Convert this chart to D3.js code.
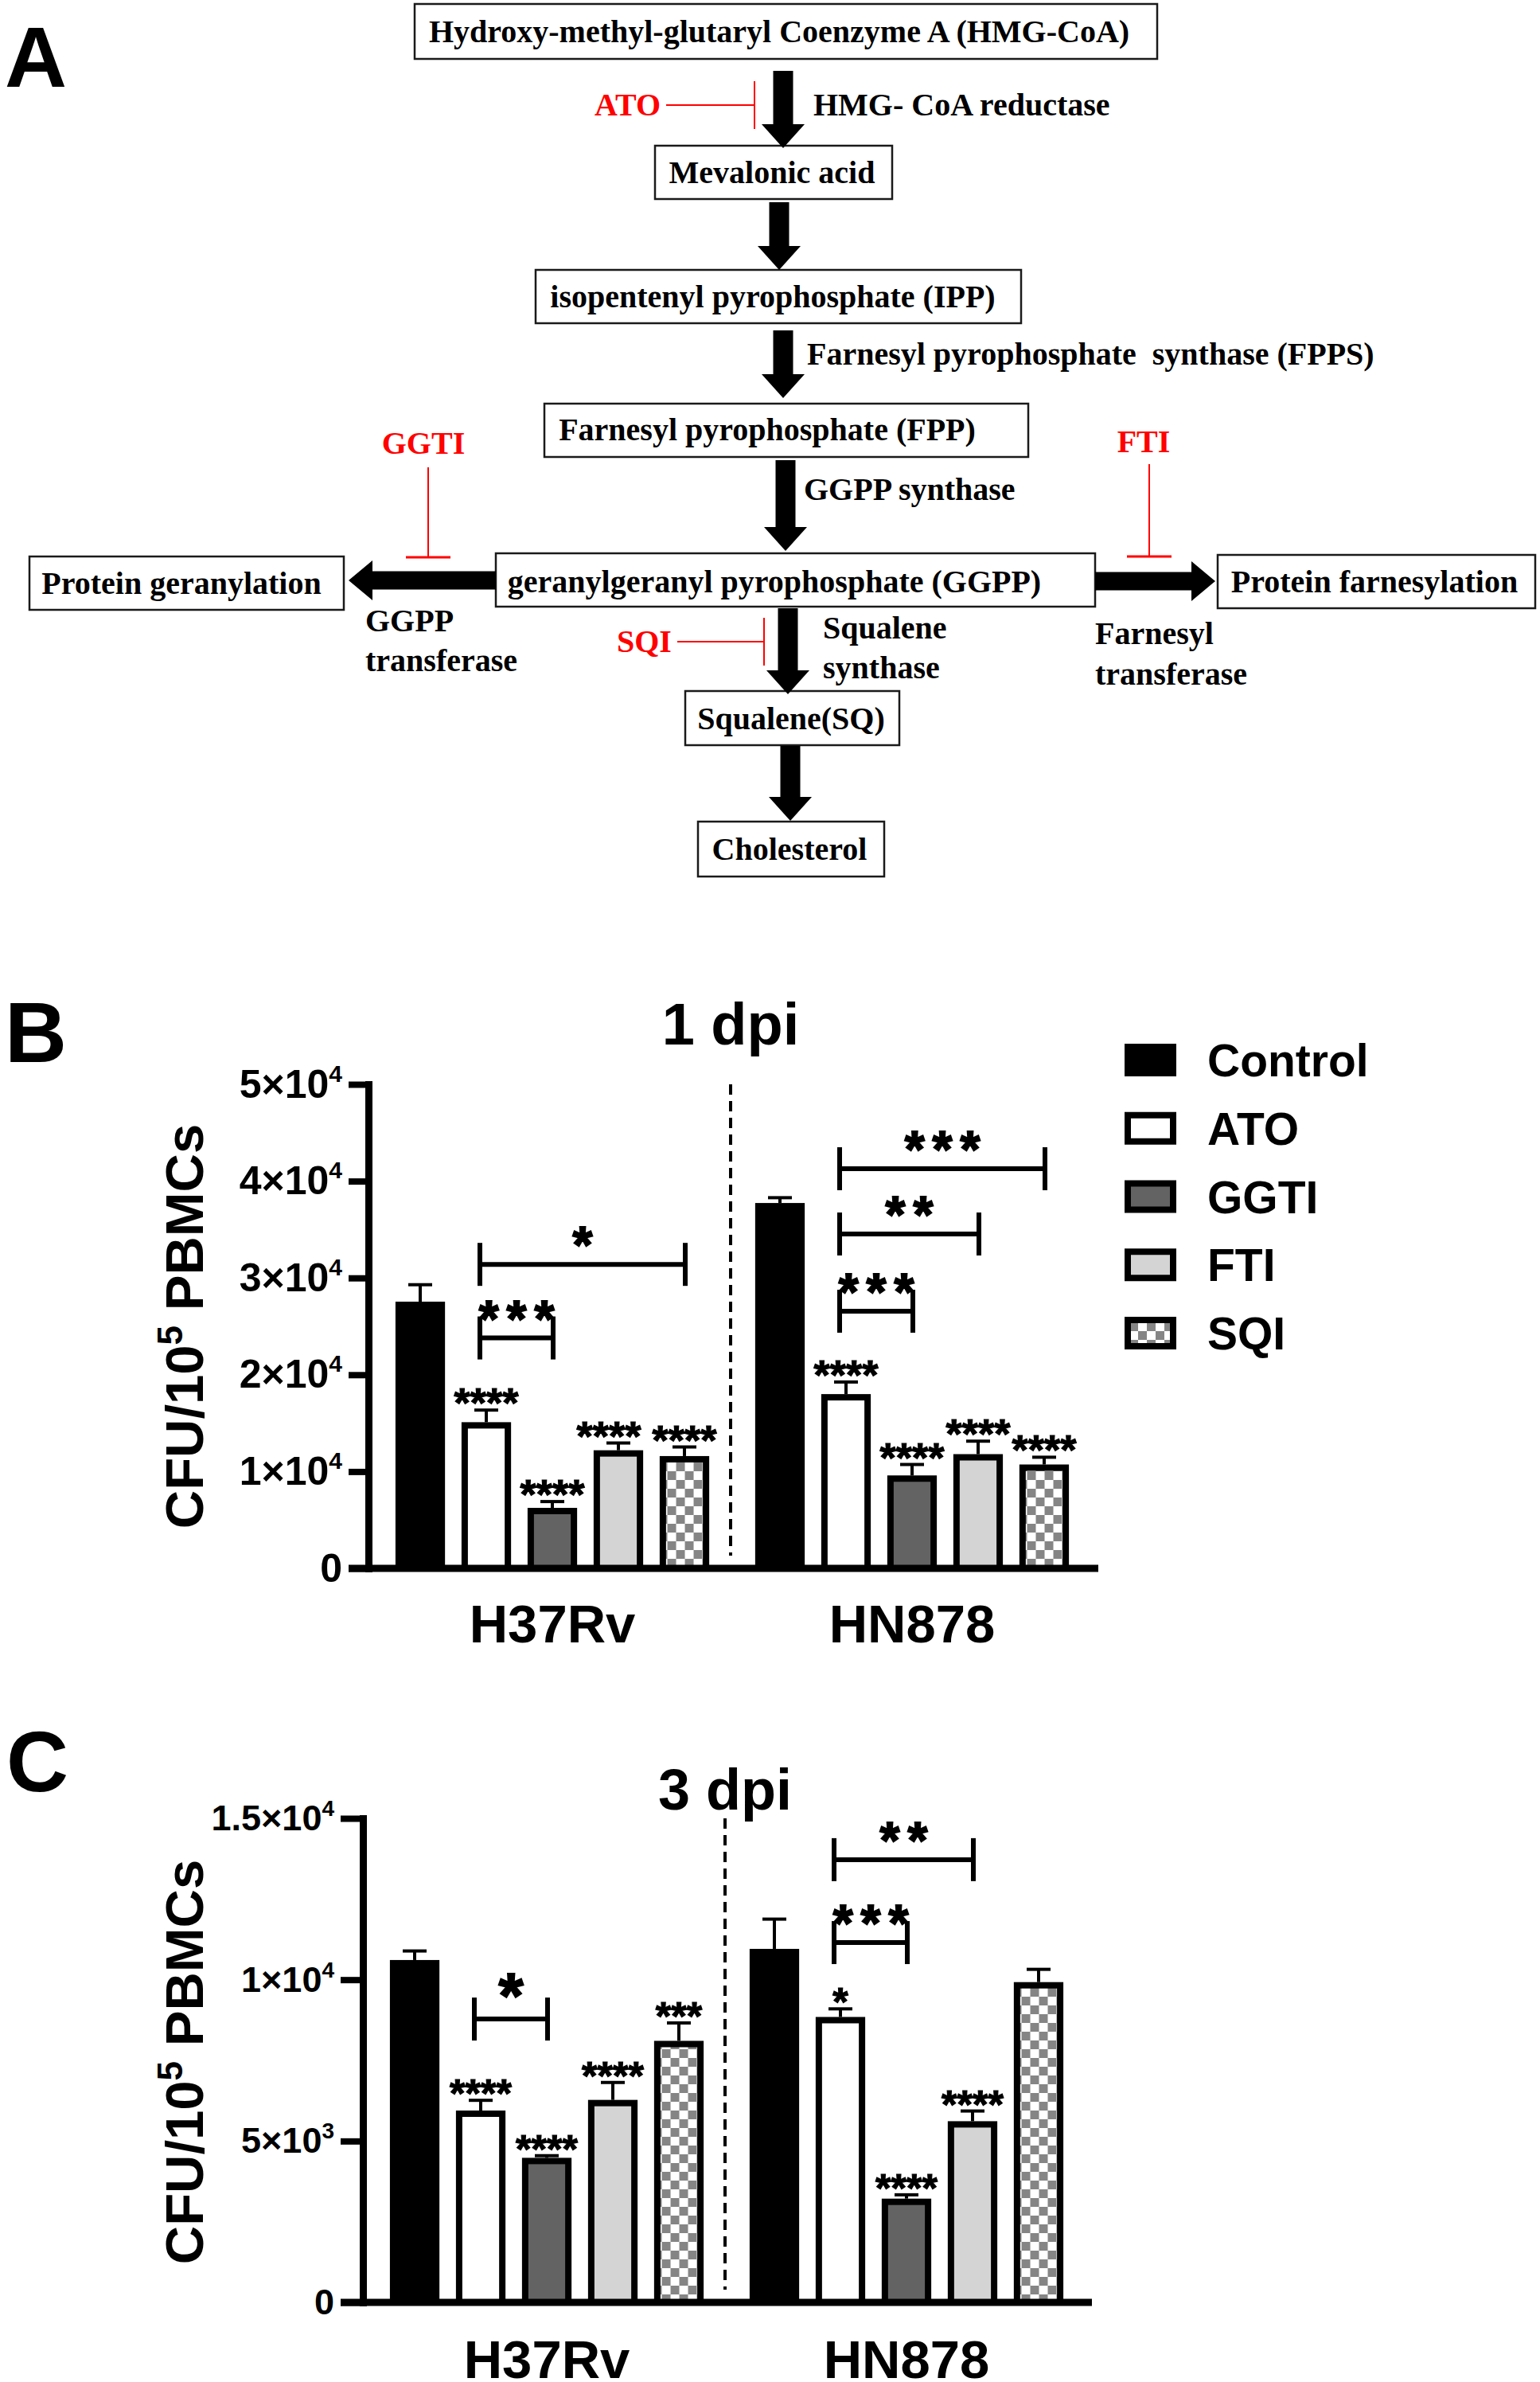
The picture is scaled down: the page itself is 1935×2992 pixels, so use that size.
<!DOCTYPE html>
<html><head><meta charset="utf-8">
<script src="https://cdn.jsdelivr.net/npm/d3@7"></script>
<style>body{margin:0;background:#fff}svg{display:block}</style>
</head><body>
<svg id="fig" width="1935" height="2992"></svg>
<script>
// ---------------- DATA ----------------
const series = ["Control", "ATO", "GGTI", "FTI", "SQI"];
const strains = ["H37Rv", "HN878"];

// Panel B: 1 dpi (CFU / 10^5 PBMCs)
const dpi1_H37Rv     = [27550, 15100, 6250, 12200, 11600];
const dpi1_H37Rv_sem = [1750, 1250, 650, 750, 940];
const dpi1_HN878     = [37740, 18000, 9600, 11800, 10730];
const dpi1_HN878_sem = [550, 1250, 1130, 1340, 750];
const dpi1_sig_H37Rv = ["", "****", "****", "****", "****"];
const dpi1_sig_HN878 = ["", "****", "****", "****", "****"];
const dpi1_ticks      = [0, 10000, 20000, 30000, 40000, 50000];
const dpi1_tickLabels = ["0", "1×10^4", "2×10^4", "3×10^4", "4×10^4", "5×10^4"];
const dpi1_brackets = [
  ["H37Rv", "ATO", "GGTI", 23800, "***"],
  ["H37Rv", "ATO", "SQI", 31400, "*"],
  ["HN878", "ATO", "GGTI", 26560, "***"],
  ["HN878", "ATO", "FTI", 34540, "**"],
  ["HN878", "ATO", "SQI", 41280, "***"]
];

// Panel C: 3 dpi
const dpi3_H37Rv     = [10610, 5945, 4480, 6275, 8105];
const dpi3_H37Rv_sem = [280, 317, 66, 540, 554];
const dpi3_HN878     = [10955, 8845, 3215, 5615, 9925];
const dpi3_HN878_sem = [922, 251, 119, 316, 396];
const dpi3_sig_H37Rv = ["", "****", "****", "****", "***"];
const dpi3_sig_HN878 = ["", "*", "****", "****", ""];
const dpi3_ticks      = [0, 5000, 10000, 15000];
const dpi3_tickLabels = ["0", "5×10^3", "1×10^4", "1.5×10^4"];
const dpi3_brackets = [
  ["H37Rv", "ATO", "GGTI", 8780, "*"],
  ["HN878", "ATO", "GGTI", 11150, "***"],
  ["HN878", "ATO", "FTI", 13720, "**"]
];

// ---------------- SETUP ----------------
const svg = d3.select("#fig");
const SANS = "'Liberation Sans', Arial, sans-serif";
const SERIF = "'Liberation Serif', 'Times New Roman', serif";
const RED = "#ff0000";

const defs = svg.append("defs");
const pat = defs.append("pattern").attr("id", "checker")
  .attr("patternUnits", "userSpaceOnUse").attr("width", 22).attr("height", 22);
pat.append("rect").attr("width", 22).attr("height", 22).attr("fill", "#fff");
pat.append("rect").attr("width", 11).attr("height", 11).attr("fill", "#858585");
pat.append("rect").attr("x", 11).attr("y", 11).attr("width", 11).attr("height", 11).attr("fill", "#858585");

const fills = {Control: "#000", ATO: "#fff", GGTI: "#636363", FTI: "#d4d4d4", SQI: "url(#checker)"};

// panel letters
[["A", 6, 109], ["B", 6, 1334], ["C", 8, 2250]].forEach(([t, x, y]) => {
  svg.append("text").attr("x", x).attr("y", y).attr("font-family", SANS)
    .attr("font-weight", "bold").attr("font-size", 108).text(t);
});

// ---------------- PANEL A (pathway diagram) ----------------
const gA = svg.append("g");
const boxes = [
  [521, 5, 933, 69], [823, 183, 298, 67], [673, 339, 610, 67], [684, 507, 608, 67],
  [623, 695, 753, 67], [37, 699, 395, 67], [1530, 697, 399, 67], [861, 868, 269, 68], [877, 1032, 234, 69]
];
gA.selectAll("rect.box").data(boxes).join("rect").attr("class", "box")
  .attr("x", d => d[0]).attr("y", d => d[1]).attr("width", d => d[2]).attr("height", d => d[3])
  .attr("fill", "#fff").attr("stroke", "#1a1a1a").attr("stroke-width", 2.5);

const vArrows = [[984, 89, 186], [979, 254, 339], [984, 415, 500], [987, 578, 692], [990, 764, 872], [993, 937, 1031]];
vArrows.forEach(([x, y1, y2]) => {
  const sw = 12.5, hw = 27, hl = 30;
  const pts = [[x - sw, y1], [x + sw, y1], [x + sw, y2 - hl], [x + hw, y2 - hl], [x, y2], [x - hw, y2 - hl], [x - sw, y2 - hl]];
  gA.append("polygon").attr("points", pts.map(p => p.join(",")).join(" ")).attr("fill", "#000");
});
const hArrows = [[729, 623, 438], [730, 1376, 1527]];
hArrows.forEach(([y, x1, x2]) => {
  const sw = 11.5, hw = 25, hl = 30, s = Math.sign(x2 - x1);
  const pts = [[x1, y - sw], [x2 - s * hl, y - sw], [x2 - s * hl, y - hw], [x2, y], [x2 - s * hl, y + hw], [x2 - s * hl, y + sw], [x1, y + sw]];
  gA.append("polygon").attr("points", pts.map(p => p.join(",")).join(" ")).attr("fill", "#000");
});

// inhibitors: [x1,y1,x2,y2, barOrientation, barHalf]
const inhib = [[837, 132, 948, 132, "v", 30], [538, 587, 538, 700, "h", 28], [1444, 583, 1444, 699, "h", 28], [851, 806, 960, 806, "v", 30]];
inhib.forEach(([x1, y1, x2, y2, o, h]) => {
  gA.append("line").attr("x1", x1).attr("y1", y1).attr("x2", x2).attr("y2", y2).attr("stroke", RED).attr("stroke-width", 2);
  if (o === "v") gA.append("line").attr("x1", x2).attr("x2", x2).attr("y1", y2 - h).attr("y2", y2 + h).attr("stroke", RED).attr("stroke-width", 2);
  else gA.append("line").attr("x1", x2 - h).attr("x2", x2 + h).attr("y1", y2).attr("y2", y2).attr("stroke", RED).attr("stroke-width", 3);
});

// texts: [text, x, centerY, anchor, color]
const aTexts = [
  ["Hydroxy-methyl-glutaryl Coenzyme A (HMG-CoA)", 979, 40, "middle", "#000"],
  ["ATO", 747, 132, "start", RED],
  ["HMG- CoA reductase", 1022, 132, "start", "#000"],
  ["Mevalonic acid", 970, 217, "middle", "#000"],
  ["isopentenyl pyrophosphate (IPP)", 971, 373, "middle", "#000"],
  ["Farnesyl pyrophosphate  synthase (FPPS)", 1014, 445, "start", "#000"],
  ["Farnesyl pyrophosphate (FPP)", 964, 540, "middle", "#000"],
  ["GGTI", 532, 557, "middle", RED],
  ["FTI", 1437, 555, "middle", RED],
  ["GGPP synthase", 1010, 615, "start", "#000"],
  ["geranylgeranyl pyrophosphate (GGPP)", 973, 731, "middle", "#000"],
  ["Protein geranylation", 228, 733, "middle", "#000"],
  ["Protein farnesylation", 1727, 731, "middle", "#000"],
  ["GGPP", 459, 780, "start", "#000"],
  ["transferase", 459, 830, "start", "#000"],
  ["Farnesyl", 1376, 796, "start", "#000"],
  ["transferase", 1376, 847, "start", "#000"],
  ["SQI", 775, 806, "start", RED],
  ["Squalene", 1034, 789, "start", "#000"],
  ["synthase", 1034, 839, "start", "#000"],
  ["Squalene(SQ)", 994, 903, "middle", "#000"],
  ["Cholesterol", 992, 1067, "middle", "#000"]
];
gA.selectAll("text").data(aTexts).join("text")
  .attr("x", d => d[1]).attr("y", d => d[2] + 13).attr("text-anchor", d => d[3]).attr("fill", d => d[4])
  .attr("font-family", SERIF).attr("font-weight", "bold").attr("font-size", 40)
  .attr("xml:space", "preserve").style("white-space", "pre").text(d => d[0]);

// ---------------- BAR CHART FUNCTION ----------------
function drawChart(o) {
  const g = svg.append("g");
  const y = d3.scaleLinear().domain([0, o.yMax]).range([o.y0, o.y1]);
  const xg = d3.scaleBand().domain(strains).range([o.xr0, o.xr1]).paddingInner(0.0819).paddingOuter(0.041);
  const xs = d3.scaleBand().domain(series).range([0, xg.bandwidth()]).paddingInner(0.25).paddingOuter(0.125);
  const bw = xs.bandwidth();
  const cx = (strain, s) => xg(strain) + xs(s) + bw / 2;

  // bars
  const grp = g.selectAll("g.grp").data(o.data).join("g").attr("class", "grp")
    .attr("transform", d => `translate(${xg(d.strain)},0)`);
  grp.each(function (d) {
    const gg = d3.select(this);
    const rows = series.map((s, i) => ({s, v: d.values[i], e: d.sem[i], sig: d.sig[i]}));
    gg.selectAll("rect").data(rows).join("rect")
      .attr("x", r => xs(r.s) + 4).attr("width", bw - 8)
      .attr("y", r => y(r.v) + 4).attr("height", r => o.y0 - y(r.v) - 4)
      .attr("fill", r => fills[r.s]).attr("stroke", "#000").attr("stroke-width", 8);
    gg.selectAll("line.stem").data(rows).join("line").attr("class", "stem")
      .attr("x1", r => xs(r.s) + bw / 2).attr("x2", r => xs(r.s) + bw / 2)
      .attr("y1", r => y(r.v)).attr("y2", r => y(r.v + r.e))
      .attr("stroke", "#000").attr("stroke-width", 4);
    gg.selectAll("line.cap").data(rows).join("line").attr("class", "cap")
      .attr("x1", r => xs(r.s) + bw / 2 - 15).attr("x2", r => xs(r.s) + bw / 2 + 15)
      .attr("y1", r => y(r.v + r.e)).attr("y2", r => y(r.v + r.e))
      .attr("stroke", "#000").attr("stroke-width", 4);
    gg.selectAll("text.sig").data(rows).join("text").attr("class", "sig")
      .attr("x", r => xs(r.s) + bw / 2 + (r.s === "FTI" && d.strain === "H37Rv" && o.shiftFTI ? -12 : 0))
      .attr("y", r => y(r.v + r.e) + 9)
      .attr("text-anchor", "middle").attr("font-family", SANS).attr("font-weight", "bold")
      .attr("stroke", "#000").attr("stroke-width", 1.2)
      .attr("font-size", o.sigFont).text(r => r.sig);
  });

  // y axis
  const ya = g.append("g").attr("transform", `translate(${o.axisX},0)`)
    .call(d3.axisLeft(y).tickValues(o.ticks).tickSize(o.tickLen).tickSizeOuter(0).tickPadding(8).tickFormat(() => ""));
  ya.select(".domain").attr("stroke", "#000").attr("stroke-width", 9).attr("stroke-linecap", "square");
  ya.selectAll(".tick line").attr("stroke", "#000").attr("stroke-width", 8);
  ya.selectAll(".tick text").each(function (d, i) {
    const t = d3.select(this);
    const parts = o.tickLabels[i].split("^");
    t.append("tspan").text(parts[0]);
    if (parts[1]) t.append("tspan").attr("font-size", o.supFont).attr("dy", -o.supShift).text(parts[1]);
  }).attr("font-family", SANS).attr("font-weight", "bold").attr("font-size", o.tickFont).attr("fill", "#000");

  // x axis
  const xa = g.append("g").attr("transform", `translate(0,${o.y0})`)
    .call(d3.axisBottom(xg).tickSize(0).tickSizeOuter(0));
  xa.select(".domain").attr("d", `M${o.axisX - o.tickLen},0H${o.xAxisEnd}`).attr("stroke", "#000").attr("stroke-width", 9);
  xa.selectAll(".tick text").attr("y", o.xLabelBase).attr("dy", 0)
    .attr("font-family", SANS).attr("font-weight", "bold").attr("font-size", 67).attr("fill", "#000");

  // divider
  const dx = (cx("H37Rv", "SQI") + cx("HN878", "Control")) / 2 - 2;
  g.append("line").attr("x1", dx).attr("x2", dx).attr("y1", y(o.yMax)).attr("y2", o.y0 - 16)
    .attr("stroke", "#000").attr("stroke-width", 4).attr("stroke-dasharray", "13,8");

  // title
  g.append("text").attr("x", dx).attr("y", o.titleY).attr("text-anchor", "middle")
    .attr("font-family", SANS).attr("font-weight", "bold").attr("font-size", o.titleFont).text(o.title);

  // brackets
  o.brackets.forEach(([st, a, b, v, lab]) => {
    const x1 = cx(st, a) - 8, x2 = cx(st, b) + 1, yy = y(v);
    g.append("line").attr("x1", x1).attr("x2", x2).attr("y1", yy).attr("y2", yy).attr("stroke", "#000").attr("stroke-width", 6);
    [x1, x2].forEach(xx => g.append("line").attr("x1", xx).attr("x2", xx).attr("y1", yy - 27).attr("y2", yy + 27)
      .attr("stroke", "#000").attr("stroke-width", 6));
    const fs = lab === "*" ? o.bigStar : 64;
    g.append("text").attr("x", (x1 + x2) / 2 + 5).attr("y", yy - 2).attr("text-anchor", "middle")
      .attr("font-family", SANS).attr("font-weight", "bold").attr("font-size", fs)
      .attr("stroke", "#000").attr("stroke-width", 2)
      .attr("letter-spacing", 10).text(lab);
  });

  // y title
  const yt = g.append("text").attr("transform", `translate(255,${o.yTitleC}) rotate(-90)`)
    .attr("text-anchor", "middle").attr("font-family", SANS).attr("font-weight", "bold").attr("font-size", 67);
  yt.append("tspan").text("CFU/10");
  yt.append("tspan").attr("font-size", 44).attr("dy", -26).text("5");
  yt.append("tspan").attr("dy", 26).text(" PBMCs");
  return g;
}

drawChart({
  yMax: 50000, y0: 1970, y1: 1362, xr0: 468, xr1: 1372, axisX: 463, tickLen: 25, xAxisEnd: 1380,
  ticks: dpi1_ticks, tickLabels: dpi1_tickLabels, tickFont: 50, supFont: 30, supShift: 20,
  xLabelBase: 93, sigFont: 52, bigStar: 64, title: "1 dpi", titleY: 1312, titleFont: 74, yTitleC: 1666,
  brackets: dpi1_brackets, shiftFTI: true,
  data: [
    {strain: "H37Rv", values: dpi1_H37Rv, sem: dpi1_H37Rv_sem, sig: dpi1_sig_H37Rv},
    {strain: "HN878", values: dpi1_HN878, sem: dpi1_HN878_sem, sig: dpi1_sig_HN878}
  ]
});

drawChart({
  yMax: 15000, y0: 2892, y1: 2284, xr0: 461, xr1: 1365, axisX: 456, tickLen: 28, xAxisEnd: 1372,
  ticks: dpi3_ticks, tickLabels: dpi3_tickLabels, tickFont: 45, supFont: 28, supShift: 18,
  xLabelBase: 95, sigFont: 50, bigStar: 80, title: "3 dpi", titleY: 2273, titleFont: 72, yTitleC: 2590,
  brackets: dpi3_brackets, shiftFTI: false,
  data: [
    {strain: "H37Rv", values: dpi3_H37Rv, sem: dpi3_H37Rv_sem, sig: dpi3_sig_H37Rv},
    {strain: "HN878", values: dpi3_HN878, sem: dpi3_HN878_sem, sig: dpi3_sig_HN878}
  ]
});

// legend
const leg = svg.append("g");
const ly = d3.scalePoint().domain(series).range([1311, 1654]);
leg.selectAll("rect").data(series).join("rect")
  .attr("x", 1417).attr("y", s => ly(s) + 4).attr("width", 57).attr("height", 33)
  .attr("fill", s => fills[s]).attr("stroke", "#000").attr("stroke-width", 8);
leg.selectAll("text").data(series).join("text")
  .attr("x", 1517).attr("y", s => ly(s) + 41)
  .attr("font-family", SANS).attr("font-weight", "bold").attr("font-size", 57).text(s => s);
</script>
</body></html>
